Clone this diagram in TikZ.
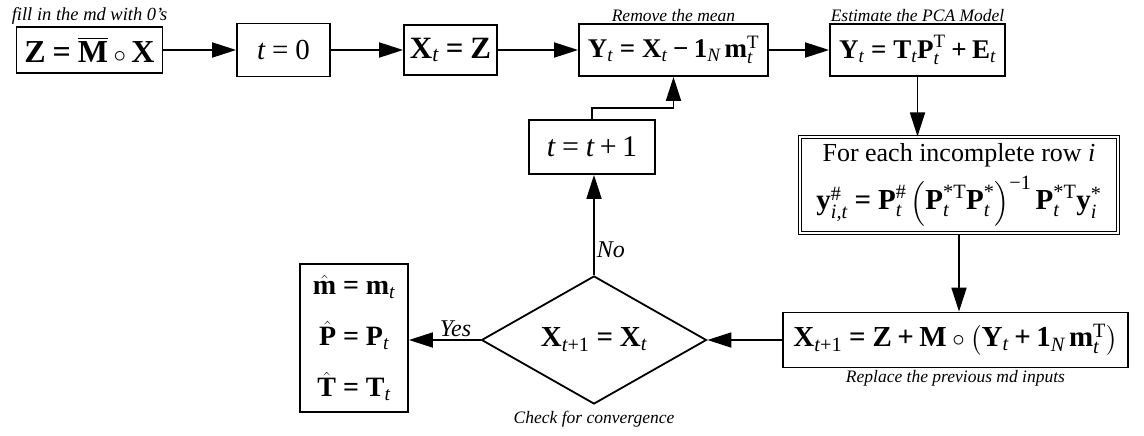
\documentclass[tikz,border=0pt]{standalone}
\usepackage{amsmath}
\usepackage{fontspec}
\setmainfont{Liberation Serif}
\usetikzlibrary{arrows.meta,shapes.geometric,positioning}
\newcommand{\vB}[1]{\text{\normalfont\bfseries #1}}
\newcommand{\vI}[1]{\text{\normalfont\itshape #1}}
\newcommand{\vR}[1]{\text{\normalfont #1}}
\newcommand{\bEq}{\mathrel{\vB{=}}}
\newcommand{\bPl}{\mathbin{\vB{+}}}
\newcommand{\bMi}{\mathbin{\vB{−}}}
\tikzset{
  box/.style={draw, line width=1.8pt, inner sep=0pt, align=center, fill=white},
  dbox/.style={draw, double, double distance=2.2pt, line width=1.1pt, inner sep=0pt, align=center},
  dia/.style={draw, diamond, line width=1.8pt, inner sep=0pt},
  arr/.style={line width=1.8pt, -{Triangle[length=24pt,width=15pt]}},
  lbl/.style={font=\fontsize{17.5}{20}\selectfont\itshape, inner sep=1pt},
  yn/.style={font=\fontsize{24}{28}\selectfont\itshape, inner sep=1pt},
  fbig/.style={font=\fontsize{29}{34}\selectfont},
  fmid/.style={font=\fontsize{27}{32}\selectfont},
}
\begin{document}
\begin{tikzpicture}[x=1pt,y=-1pt]
\useasboundingbox (0,0) rectangle (1144,436);
\node[box,font=\fontsize{32}{38}\selectfont,minimum width=146pt,minimum height=46pt] (b1) at (89.5,50) {$\vB{Z}\bEq\overline{\vB{M}}\circ\vB{X}$};
\node[box,fbig,minimum width=93pt,minimum height=53pt] (b2) at (283.5,50) {$\vI{t}\mathrel{\vR{=}}\vR{0}$};
\node[box,font=\fontsize{31}{36}\selectfont,minimum width=93pt,minimum height=50pt] (b3) at (450.5,50) {$\vB{X}_{\vI{t}}\bEq\vB{Z}$};
\node[box,fmid,minimum width=189pt,minimum height=52pt] (b4) at (673.5,50) {$\vB{Y}_{\vI{t}}\bEq\vB{X}_{\vI{t}}\bMi\vB{1}_{\vI{N}}\,\vB{m}_{\vI{t}}^{\vR{T}}$};
\node[box,fmid,minimum width=175pt,minimum height=52pt] (b5) at (917.5,50) {$\vB{Y}_{\vI{t}}\bEq\vB{T}_{\vI{t}}\vB{P}_{\vI{t}}^{\vR{T}}\bPl\vB{E}_{\vI{t}}$};
\node[dbox,font=\fontsize{26}{50}\selectfont,minimum width=318pt,minimum height=96pt] (b6) at (959,185) {For each incomplete row \textit{i}\\[-2pt]
{\fontsize{29}{34}\selectfont$\vB{y}_{\vI{i,t}}^{\vR{\#}}\bEq\vB{P}_{\vI{t}}^{\vR{\#}}\left(\vB{P}_{\vI{t}}^{\vR{*T}}\vB{P}_{\vI{t}}^{\vR{*}}\right)^{\vR{−1}}\vB{P}_{\vI{t}}^{\vR{*T}}\vB{y}_{\vI{i}}^{\vR{*}}$}};
\node[box,font=\fontsize{29}{34}\selectfont,minimum width=345pt,minimum height=55pt] (b7) at (955.5,340) {$\vB{X}_{\vI{t}\mathbin{\vR{+}}\vR{1}}\bEq\vB{Z}\bPl\vB{M}\circ\left(\vB{Y}_{\vI{t}}\bPl\vB{1}_{\vI{N}}\,\vB{m}_{\vI{t}}^{\vR{T}}\right)$};
\node[dia,font=\fontsize{29}{34}\selectfont,minimum width=225pt,minimum height=128pt,aspect=1.75] (d) at (594,340) {$\vB{X}_{\vI{t}\mathbin{\vR{+}}\vR{1}}\bEq\vB{X}_{\vI{t}}$};
\node[box,font=\fontsize{30}{34}\selectfont,minimum width=126pt,minimum height=54pt] (tp) at (592,147) {$\vI{t}\mathrel{\vR{=}}\vI{t}\mathbin{\vR{+}}\vR{1}$};
\node[box,font=\fontsize{28}{51}\selectfont,minimum width=108pt,minimum height=148pt] (res) at (354,338) {$\hat{\vB{m}}\bEq\vB{m}_{\vI{t}}$\\$\hat{\vB{P}}\bEq\vB{P}_{\vI{t}}$\\$\hat{\vB{T}}\bEq\vB{T}_{\vI{t}}$};
% labels
\node[lbl,font=\fontsize{18.5}{20}\selectfont\itshape,above=0pt of b1] (l1) {fill in the md with 0's};
\node[lbl,above=0pt of b4] (l4) {Remove the mean};
\node[lbl,above=0pt of b5] (l5) {Estimate the PCA Model};
\node[lbl,below=1pt of b7] (l7) {Replace the previous md inputs};
\node[lbl,below=5pt of d] (ld) {Check for convergence};
% connectors
\draw[arr] (b1.east) -- (b2.west);
\draw[arr] (b2.east) -- (b3.west);
\draw[arr] (b3.east) -- (b4.west);
\draw[arr] (b4.east) -- (b5.west);
\draw[arr] (b5.south) -- (b5.south |- b6.north);
\draw[arr] (b6.south) -- (b6.south |- b7.north);
\draw[arr] (b7.west) -- (d.east);
\draw[arr] (d.west) -- node[yn,above=1pt,pos=0.35] (yes) {Yes} (d.west -| res.east);
\draw[arr] (d.north) -- node[yn,right=1pt,pos=0.25] (no) {No} (d.north |- tp.south);
\coordinate (bend) at (673.5,108);
\draw[arr] (tp.north) |- (bend) -- (b4.south);
\end{tikzpicture}
\end{document}
